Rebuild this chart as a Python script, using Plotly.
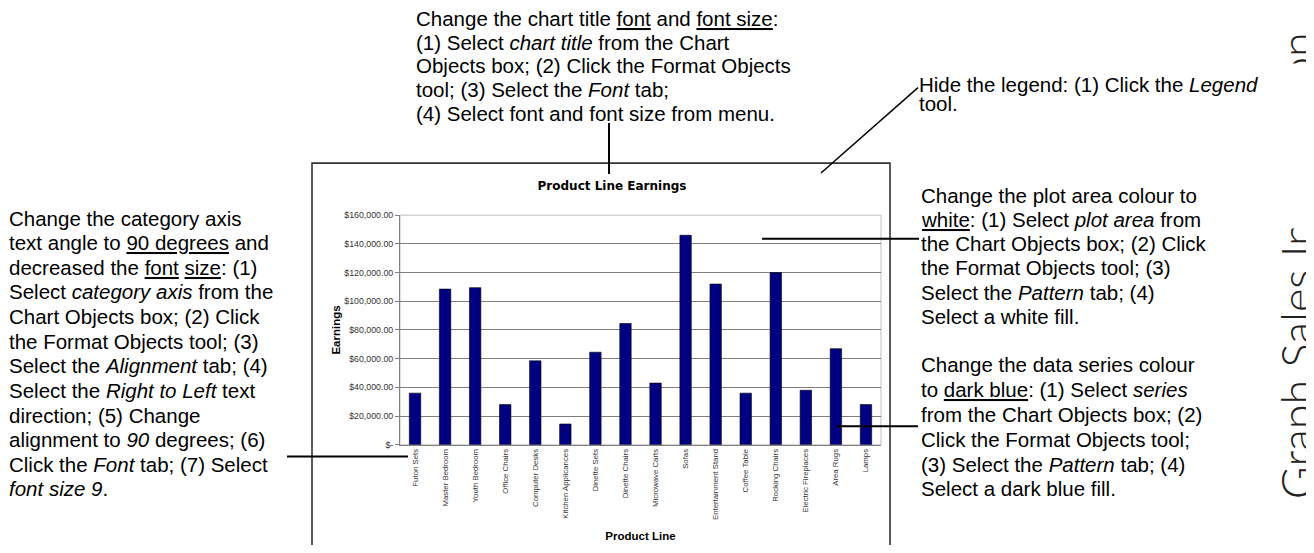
import plotly.graph_objects as go

# The page body adds an 8px margin, so the figure is drawn 16px smaller
# and all target pixel positions are shifted by that margin.
WIN_W, WIN_H = 1314, 553
MARGIN = 8
FW, FH = WIN_W - 2 * MARGIN, WIN_H - 2 * MARGIN

categories = ["Futon Sets", "Master Bedroom", "Youth Bedroom", "Office Chairs",
              "Computer Desks", "Kitchen Applicances", "Dinette Sets", "Dinette Chairs",
              "Microwave Carts", "Sofas", "Entertainment Stand", "Coffee Table",
              "Rocking Chairs", "Electric Fireplaces", "Area Rugs", "Lamps"]
earnings = [36000, 108500, 109500, 28000, 58500, 14500, 64500, 84500,
            43000, 146000, 112000, 36000, 120000, 38000, 67000, 28000]

y_tick_values = [0, 20000, 40000, 60000, 80000, 100000, 120000, 140000, 160000]
y_tick_labels = ["$-", "$20,000.00", "$40,000.00", "$60,000.00", "$80,000.00",
                 "$100,000.00", "$120,000.00", "$140,000.00", "$160,000.00"]

chart_title = "Product Line Earnings"
x_title = "Product Line"
y_title = "Earnings"

note_title = ["Change the chart title <u>font</u> and <u>font size</u>:",
              "(1) Select <i>chart title</i> from the Chart",
              "Objects box; (2) Click the Format Objects",
              "tool; (3) Select the <i>Font</i> tab;",
              "(4) Select font and font size from menu."]
note_legend = ["Hide the legend: (1) Click the <i>Legend</i>",
               "tool."]
note_plot = ["Change the plot area colour to",
             "<u>white</u>: (1) Select <i>plot area</i> from",
             "the Chart Objects box; (2) Click",
             "the Format Objects tool; (3)",
             "Select the <i>Pattern</i> tab; (4)",
             "Select a white fill."]
note_series = ["Change the data series colour",
               "to <u>dark blue</u>: (1) Select <i>series</i>",
               "from the Chart Objects box; (2)",
               "Click the Format Objects tool;",
               "(3) Select the <i>Pattern</i> tab; (4)",
               "Select a dark blue fill."]
note_axis = ["Change the category axis",
             "text angle to <u>90 degrees</u> and",
             "decreased the <u>font</u> <u>size</u>: (1)",
             "Select <i>category axis</i> from the",
             "Chart Objects box; (2) Click",
             "the Format Objects tool; (3)",
             "Select the <i>Alignment</i> tab; (4)",
             "Select the <i>Right to Left</i> text",
             "direction; (5) Change",
             "alignment to <i>90</i> degrees; (6)",
             "Click the <i>Font</i> tab; (7) Select",
             "<i>font size 9</i>."]
side_text = "Graph Sales Information"


def px(x):
    return (x - MARGIN) / FW


def py(y):
    return 1 - (y - MARGIN) / FH


PLOT_L, PLOT_R, PLOT_T, PLOT_B = 400, 881, 214, 448
NOTE_FONT = dict(family="Liberation Sans, Arial", size=20.5, color="black")
AXIS_FONT = "Liberation Sans, Arial"

fig = go.Figure()
fig.add_trace(go.Bar(
    x=categories, y=earnings,
    marker=dict(color="#000080", line=dict(color="#000000", width=0.6)),
    showlegend=False,
))

annotations = []


def add_block(lines, x, y_first, y_last):
    n = len(lines)
    dy = (y_last - y_first) / (n - 1) if n > 1 else 0
    for i, t in enumerate(lines):
        annotations.append(dict(text=t, x=px(x), y=py(y_first + i * dy), xref="paper", yref="paper",
                                xanchor="left", yanchor="middle", showarrow=False,
                                font=NOTE_FONT))


add_block(note_title, 414, 14, 110)
add_block(note_legend, 917, 81, 100)
add_block(note_plot, 919, 194, 317)
add_block(note_series, 919, 366, 493)
add_block(note_axis, 7, 217, 493)

# vertical page header on the right edge
annotations.append(dict(text=side_text, x=px(1297), y=py(506), xref="paper", yref="paper",
                        xanchor="center", yanchor="bottom", showarrow=False, textangle=-90,
                        font=dict(family="Lato", size=45, color="#222222", weight=300)))
# white text-box area hiding part of the header (as in the source page)
annotations.append(dict(text=" ", x=px(1292), y=py(144), xref="paper", yref="paper",
                        xanchor="center", yanchor="middle", showarrow=False,
                        width=56, height=164, bgcolor="white", borderpad=0,
                        font=dict(size=4, color="white")))

shapes = [
    # chart box
    dict(type="rect", xref="paper", yref="paper", x0=px(312), x1=px(890), y0=py(620), y1=py(161),
         line=dict(color="#333333", width=1.6), layer="below"),
    # plot area border
    dict(type="rect", xref="x domain", yref="y domain", x0=0, x1=1, y0=0, y1=1,
         line=dict(color="#c0c0c0", width=1), layer="below"),
    # leader lines
    dict(type="line", xref="paper", yref="paper", x0=px(609), x1=px(609), y0=py(120), y1=py(172),
         line=dict(color="black", width=2)),
    dict(type="line", xref="paper", yref="paper", x0=px(918), x1=px(821), y0=py(84), y1=py(171),
         line=dict(color="black", width=1.5)),
    dict(type="line", xref="paper", yref="paper", x0=px(762), x1=px(919), y0=py(238), y1=py(238),
         line=dict(color="black", width=2)),
    dict(type="line", xref="paper", yref="paper", x0=px(836), x1=px(918), y0=py(429), y1=py(429),
         line=dict(color="black", width=2)),
    dict(type="line", xref="paper", yref="paper", x0=px(287), x1=px(408), y0=py(460), y1=py(460),
         line=dict(color="black", width=2)),
]

fig.update_layout(
    width=FW, height=FH,
    margin=dict(l=0, r=0, t=0, b=0),
    paper_bgcolor="white", plot_bgcolor="white",
    bargap=0.62,
    showlegend=False,
    title=dict(text="<b>" + chart_title + "</b>", x=px(612), y=py(184), xanchor="center",
               yanchor="middle", xref="paper", yref="paper",
               font=dict(family="DejaVu Sans", size=12, color="black")),
    xaxis=dict(domain=[px(PLOT_L), px(PLOT_R)], tickangle=-90,
               tickfont=dict(family=AXIS_FONT, size=7.8, color="#333333"),
               showline=True, linecolor="#808080", linewidth=1, ticks="", showgrid=False,
               title=dict(text="<b>" + x_title + "</b>", standoff=12,
                          font=dict(family=AXIS_FONT, size=11.5, color="black")),
               fixedrange=True),
    yaxis=dict(domain=[py(PLOT_B), py(PLOT_T)], range=[0, 160000],
               tickvals=y_tick_values, ticktext=y_tick_labels,
               tickfont=dict(family=AXIS_FONT, size=8.8, color="#333333"),
               showgrid=True, gridcolor="#7f7f7f", gridwidth=1,
               showline=True, linecolor="#808080", linewidth=1,
               ticks="outside", ticklen=4, tickcolor="#808080",
               zeroline=False,
               title=dict(text="<b>" + y_title + "</b>", standoff=1,
                          font=dict(family=AXIS_FONT, size=11.5, color="black")),
               fixedrange=True),
    annotations=annotations,
    shapes=shapes,
)

fig.write_html("out.html")
